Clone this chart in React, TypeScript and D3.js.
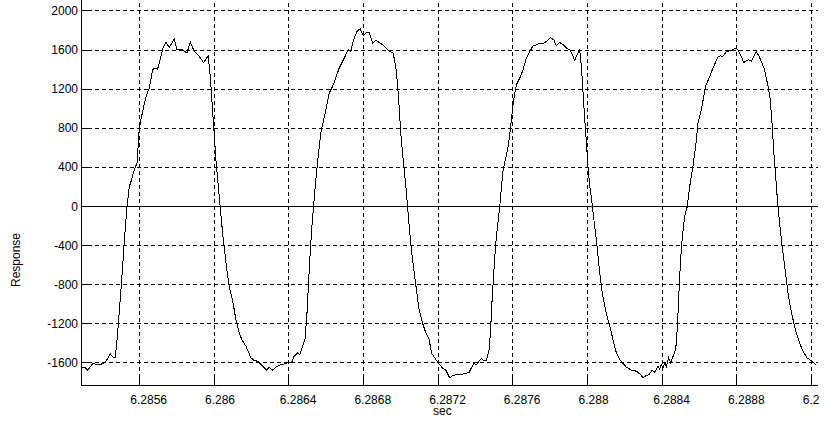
import React from 'react';
import * as d3 from 'd3';

const timeSec: number[] = [
  6.285288, 6.285306, 6.285324, 6.28535, 6.285377, 6.285404, 6.285422, 6.285445, 6.285463, 6.285472,
  6.285484, 6.285498, 6.285511, 6.285523, 6.285534, 6.285547, 6.285559, 6.285573, 6.285588, 6.2856,
  6.285609, 6.285627, 6.285645, 6.285654, 6.285671, 6.285684, 6.285698, 6.285711, 6.285725, 6.285743,
  6.285761, 6.285787, 6.285802, 6.285818, 6.285832, 6.285855, 6.285873, 6.285894, 6.285921, 6.285944,
  6.285969, 6.28598, 6.285992, 6.286001, 6.28601, 6.286023, 6.286033, 6.286046, 6.286058, 6.286073,
  6.286085, 6.286099, 6.286117, 6.286135, 6.286149, 6.286171, 6.286198, 6.286215, 6.286233, 6.28626,
  6.286281, 6.286296, 6.286313, 6.286331, 6.286349, 6.286367, 6.286394, 6.286415, 6.286429, 6.286447,
  6.28646, 6.286474, 6.286487, 6.286497, 6.286506, 6.286515, 6.286524, 6.286533, 6.286545, 6.286558,
  6.286572, 6.286581, 6.286599, 6.286617, 6.286635, 6.286652, 6.28667, 6.286688, 6.286706, 6.286718,
  6.286733, 6.286742, 6.286754, 6.286768, 6.286783, 6.2868, 6.286813, 6.286831, 6.286849, 6.286866,
  6.286884, 6.286902, 6.28692, 6.286938, 6.286959, 6.286973, 6.286982, 6.286991, 6.287, 6.287013,
  6.287027, 6.287036, 6.287048, 6.287059, 6.287072, 6.287086, 6.287098, 6.287116, 6.287134, 6.287152,
  6.287164, 6.287182, 6.2872, 6.287223, 6.287241,
  6.287262, 6.28728, 6.287307, 6.287343, 6.287366, 6.287378, 6.287391, 6.287405, 6.287419, 6.287432,
  6.287444, 6.287459, 6.287473, 6.28748, 6.287489, 6.287498, 6.287507, 6.287518, 6.28753, 6.287539,
  6.287548, 6.28756, 6.287575, 6.287584, 6.287592, 6.287601, 6.28761, 6.287619, 6.287637, 6.287655,
  6.287669, 6.287687, 6.287708, 6.28773, 6.287744, 6.287762, 6.28778, 6.287801, 6.287819, 6.287833,
  6.287851, 6.287869, 6.287887, 6.287905, 6.287919, 6.287931, 6.287944, 6.287958, 6.287967, 6.287976,
  6.287985, 6.287994, 6.288003, 6.288012, 6.288026, 6.288038, 6.288051, 6.288065, 6.288079, 6.288092,
  6.288104, 6.288119, 6.288136, 6.288154, 6.288172, 6.28819, 6.288208, 6.288235, 6.288261, 6.288283,
  6.288297, 6.288315, 6.288329, 6.288347, 6.288359, 6.288377, 6.288386, 6.288395, 6.288404, 6.288413,
  6.288422, 6.288434, 6.288445, 6.288458, 6.288472, 6.288481, 6.28849, 6.288497, 6.288506, 6.28852,
  6.288534, 6.288547, 6.288564, 6.288579, 6.288591, 6.288609, 6.288632, 6.288654, 6.288675, 6.288698,
  6.288711, 6.288725, 6.288743, 6.288764, 6.288779, 6.288793, 6.288807, 6.288823, 6.288836, 6.28885,
  6.288864, 6.288877, 6.288889, 6.288903, 6.288918, 6.28893, 6.288948, 6.288966, 6.288978, 6.288989,
  6.288996, 6.289007, 6.289019, 6.289032, 6.289046, 6.28906, 6.289073, 6.289085, 6.2891, 6.289117,
  6.289135, 6.289153, 6.289175, 6.289189, 6.289207, 6.289225,
];

const response: number[] = [
  -1654, -1647, -1678, -1610, -1620, -1613, -1586, -1511, -1552, -1545,
  -1296, -955, -614, -273, 0, 205, 273, 375, 443, 801,
  887, 1057, 1176, 1211, 1398, 1415, 1405, 1500, 1610, 1678,
  1627, 1712, 1603, 1610, 1603, 1569, 1681, 1586, 1535, 1473,
  1541, 1330, 989, 750, 477, 205, 0, -273, -477, -716,
  -853, -955, -1159, -1296, -1364, -1432, -1552, -1579, -1586, -1637,
  -1678, -1647, -1678, -1647, -1627, -1620, -1603, -1603, -1535, -1500,
  -1517, -1432, -1364, -1125, -784, -477, -205, 0, 273, 512,
  750, 835, 989, 1159, 1228, 1313, 1415, 1483, 1552, 1603,
  1586, 1671, 1739, 1800, 1814, 1746, 1773, 1783, 1671, 1698,
  1678, 1654, 1620, 1586, 1569, 1432, 1262, 1023, 750, 477,
  205, 0, -273, -477, -682, -887, -1057, -1194, -1296, -1364,
  -1500, -1552, -1603, -1654, -1678,
  -1756, -1732, -1722, -1715, -1698, -1654, -1610, -1620, -1586, -1558,
  -1579, -1575, -1466, -1296, -955, -682, -409, -205, 0, 205,
  375, 477, 614, 750, 887, 1040, 1159, 1245, 1313, 1398,
  1500, 1569, 1644, 1654, 1671, 1664, 1688, 1729, 1705, 1644,
  1678, 1654, 1620, 1603, 1552, 1494, 1552, 1603, 1432, 1159,
  887, 648, 375, 205, 0, -205, -409, -682, -887, -1023,
  -1125, -1228, -1364, -1500, -1569, -1610, -1647, -1678, -1688, -1722,
  -1756, -1732, -1722, -1678, -1698, -1637, -1664, -1620, -1654, -1603,
  -1637, -1552, -1603, -1535, -1466, -1228, -853, -580, -341, -102,
  0, 205, 409, 614, 853, 989, 1228, 1330, 1432, 1528,
  1541, 1535, 1586, 1592, 1603, 1620, 1596, 1535, 1473, 1490,
  1500, 1483, 1528, 1586, 1535, 1483, 1398, 1228, 1091, 818,
  580, 307, 0, -239, -477, -682, -887, -1023, -1159, -1296,
  -1398, -1483, -1552, -1569, -1596, -1630,
];

const yTickValues: number[] = [-1600, -1200, -800, -400, 0, 400, 800, 1200, 1600, 2000];
const yTickLabels: string[] = ['-1600', '-1200', '-800', '-400', '0', '400', '800', '1200', '1600', '2000'];
const xTickValues: number[] = [6.2856, 6.286, 6.2864, 6.2868, 6.2872, 6.2876, 6.288, 6.2884, 6.2888, 6.2892];
const xTickLabels: string[] = ['6.2856', '6.286', '6.2864', '6.2868', '6.2872', '6.2876', '6.288', '6.2884', '6.2888', '6.2892'];
const xAxisLabel = 'sec';
const yAxisLabel = 'Response';

export default function App() {
  const W = 836;
  const H = 428;
  const left = 81;
  const right = 818;
  const top = 0;
  const bottom = 385;
  const x = d3.scaleLinear().domain([6.2852879, 6.2892337]).range([left, right]);
  const y = d3.scaleLinear().domain([-1829.6, 2112.2]).range([bottom, top]);
  const px = (v: number) => Math.floor(v) + 0.5;

  const line = d3
    .line<number>()
    .x((_, i) => x(timeSec[i]))
    .y((d) => y(d));

  const font = "'Liberation Sans', Arial, sans-serif";
  const tickLen = 8;

  return (
    <svg
      width={W}
      height={H}
      style={{ position: 'absolute', left: 0, top: 0, background: '#fff' }}
      fontFamily={font}
      fontSize={12}
    >
      <defs>
        <clipPath id="clipAll">
          <rect x={0} y={0} width={819} height={H} />
        </clipPath>
      </defs>
      <rect x={0} y={0} width={W} height={H} fill="#fff" />
      <g clipPath="url(#clipAll)">
        {/* horizontal grid */}
        {yTickValues.map((v) =>
          v === 0 ? null : (
            <line
              key={'hg' + v}
              x1={left}
              x2={right}
              y1={px(y(v))}
              y2={px(y(v))}
              stroke="#000"
              strokeDasharray="4 3"
              shapeRendering="crispEdges"
            />
          )
        )}
        {/* vertical grid */}
        {xTickValues.map((v) => (
          <line
            key={'vg' + v}
            x1={px(x(v))}
            x2={px(x(v))}
            y1={bottom}
            y2={top}
            stroke="#000"
            strokeDasharray="4 3"
            shapeRendering="crispEdges"
          />
        ))}
        {/* zero line */}
        <line x1={left} x2={right} y1={px(y(0))} y2={px(y(0))} stroke="#000" shapeRendering="crispEdges" />
        {/* ticks */}
        {yTickValues.map((v) => (
          <line
            key={'yt' + v}
            x1={left}
            x2={left + tickLen}
            y1={px(y(v))}
            y2={px(y(v))}
            stroke="#000"
            shapeRendering="crispEdges"
          />
        ))}
        {xTickValues.map((v) => (
          <line
            key={'xt' + v}
            x1={px(x(v))}
            x2={px(x(v))}
            y1={bottom}
            y2={bottom - tickLen}
            stroke="#000"
            shapeRendering="crispEdges"
          />
        ))}
        {/* axes */}
        <line x1={px(left)} x2={px(left)} y1={top} y2={bottom + 1} stroke="#000" shapeRendering="crispEdges" />
        <line x1={left} x2={right} y1={px(bottom)} y2={px(bottom)} stroke="#000" shapeRendering="crispEdges" />
        {/* data */}
        <path d={line(response) || ''} fill="none" stroke="#000" strokeWidth={1} shapeRendering="crispEdges" />
        {/* y tick labels */}
        {yTickValues.map((v, i) => (
          <text key={'yl' + v} x={78} y={y(v)} dy="0.35em" textAnchor="end" fill="#000">
            {yTickLabels[i]}
          </text>
        ))}
        {/* x tick labels */}
        {xTickValues.map((v, i) => (
          <text key={'xl' + v} x={x(v) - 9} y={404} textAnchor="start" fill="#000">
            {xTickLabels[i]}
          </text>
        ))}
        <text x={433} y={415} fill="#000">
          {xAxisLabel}
        </text>
        <text transform="translate(20,260) rotate(-90)" textAnchor="middle" fill="#000">
          {yAxisLabel}
        </text>
      </g>
    </svg>
  );
}
